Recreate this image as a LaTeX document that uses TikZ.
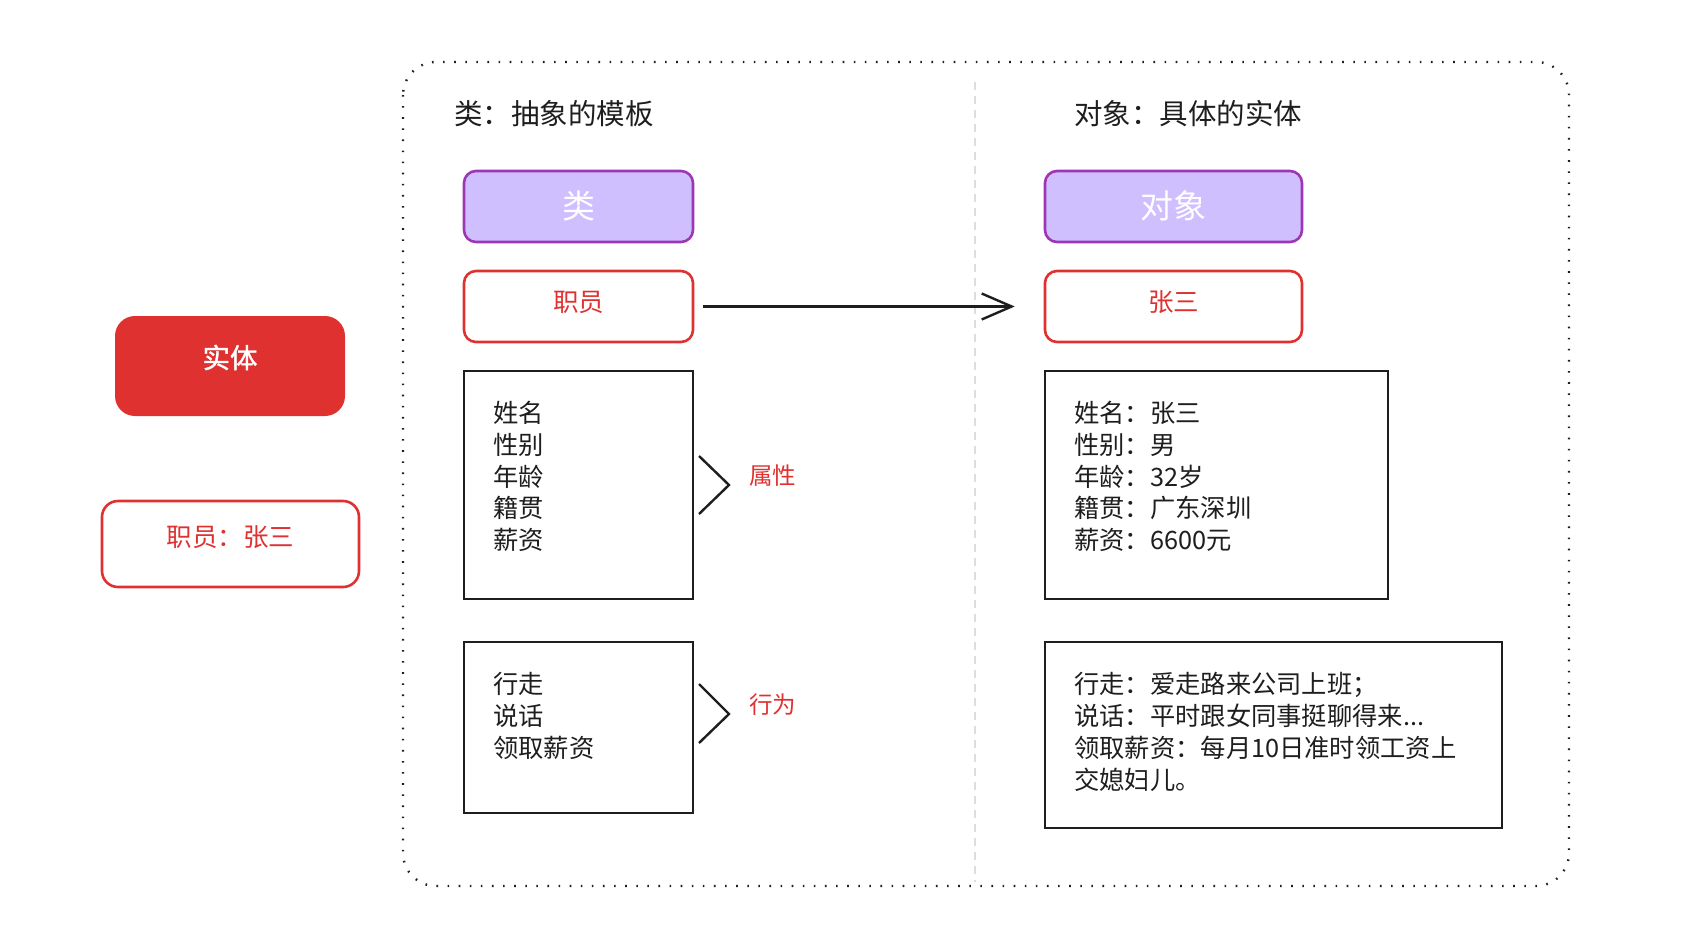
\documentclass[tikz,border=0pt]{standalone}
\usepackage{fontspec}
\setmainfont{Noto Sans CJK SC}
\newfontfamily\semib[FakeBold=1.3]{Noto Sans CJK SC}
\usetikzlibrary{arrows.meta}
\definecolor{ink}{HTML}{1E1E1E}
\definecolor{redc}{HTML}{E03131}
\definecolor{purp}{HTML}{9C36B5}
\definecolor{lav}{HTML}{D0BFFF}
\definecolor{divc}{HTML}{DDDDDD}
\newcommand{\lift}[2]{\raisebox{#1}[\height][\depth]{#2}}
\begin{document}
\begin{tikzpicture}[x=1pt,y=-1pt,
  hdr/.style={font=\fontsize{28.5}{34}\selectfont, text=ink, anchor=west, inner sep=0},
  classbox/.style={draw=purp, fill=lav, line width=2.6pt, rounded corners=12pt, text=white, font=\fontsize{33}{38}\selectfont},
  namebox/.style={draw=redc, fill=white, line width=2.6pt, rounded corners=12pt, text=redc, font=\fontsize{25.5}{30}\selectfont},
  plainbox/.style={draw=ink, line width=2.6pt},
  body/.style={font=\fontsize{25.3}{31.8}\selectfont, text=ink, align=left, anchor=west, inner sep=0},
  redlbl/.style={font=\fontsize{23.5}{28}\selectfont, text=redc, anchor=west, inner sep=0},
  chev/.style={draw=ink, line width=2.4pt, line join=miter},
]
\useasboundingbox (0,0) rectangle (1708,938);
% outer dotted frame and divider
\draw[ink, line width=2.4pt, dash pattern=on 1.6pt off 9.5pt, rounded corners=33pt] (403,62) rectangle (1569,886);
\draw[divc, line width=1.5pt, dash pattern=on 8pt off 6pt] (975,82) -- (975,882);
% headers
\node[hdr] (h1) at (454,114) {类：抽象的模板};
\node[hdr] (h2) at (1074,114) {对象：具体的实体};
% class / object
\node[classbox, minimum width=229pt, minimum height=71pt] (cls) at (578.5,206.5) {\lift{0.5pt}{类}};
\node[classbox, minimum width=257pt, minimum height=71pt] (obj) at (1173.5,206.5) {\lift{0.5pt}{对象}};
\node[namebox, minimum width=229pt, minimum height=71pt] (zy) at (578.5,306.5) {\lift{4.5pt}{职员}};
\node[namebox, minimum width=257pt, minimum height=71pt] (zs) at (1173.5,306.5) {\lift{4.5pt}{张三}};
\draw[ink, line width=2.4pt, shorten <=9pt, shorten >=29pt, -{Straight Barb[length=30pt, width=26pt, line width=2.4pt]}] (zy.east) -- (zs.west);
% left side
\node[fill=redc, rounded corners=20pt, minimum width=230pt, minimum height=100pt, text=white, font=\fontsize{27.5}{32}\semib] (st) at (230,366) {\lift{8.5pt}{实体}};
\node[namebox, rounded corners=16pt, minimum width=257pt, minimum height=86pt] (zyzs) at (230.5,544) {\lift{7pt}{职员：张三}};
% class attribute / behaviour
\node[plainbox, minimum width=229pt, minimum height=228pt] (attr) at (578.5,485) {};
\node[body] (attrt) at (493,476.5) {姓名\\性别\\年龄\\籍贯\\薪资};
\node[plainbox, minimum width=229pt, minimum height=171pt] (beh) at (578.5,727.5) {};
\node[body] (beht) at (493,716) {行走\\说话\\领取薪资};
\draw[chev] (699,456) -- (729,485) -- (699,514);
\node[redlbl] (sx) at (749,476) {属性};
\draw[chev] (699,684) -- (729,714) -- (699,743);
\node[redlbl] (xw) at (749,705) {行为};
% object attribute / behaviour
\node[plainbox, minimum width=343pt, minimum height=228pt] (oattr) at (1216.5,485) {};
\node[body] (oattrt) at (1074,476.5) {姓名：张三\\性别：男\\年龄：32岁\\籍贯：广东深圳\\薪资：6600元};
\node[plainbox, minimum width=457pt, minimum height=186pt] (obeh) at (1273.5,735) {};
\node[body] (obeht) at (1074,732) {行走：爱走路来公司上班；\\说话：平时跟女同事挺聊得来...\\领取薪资：每月10日准时领工资上\\交媳妇儿。};
\end{tikzpicture}
\end{document}
